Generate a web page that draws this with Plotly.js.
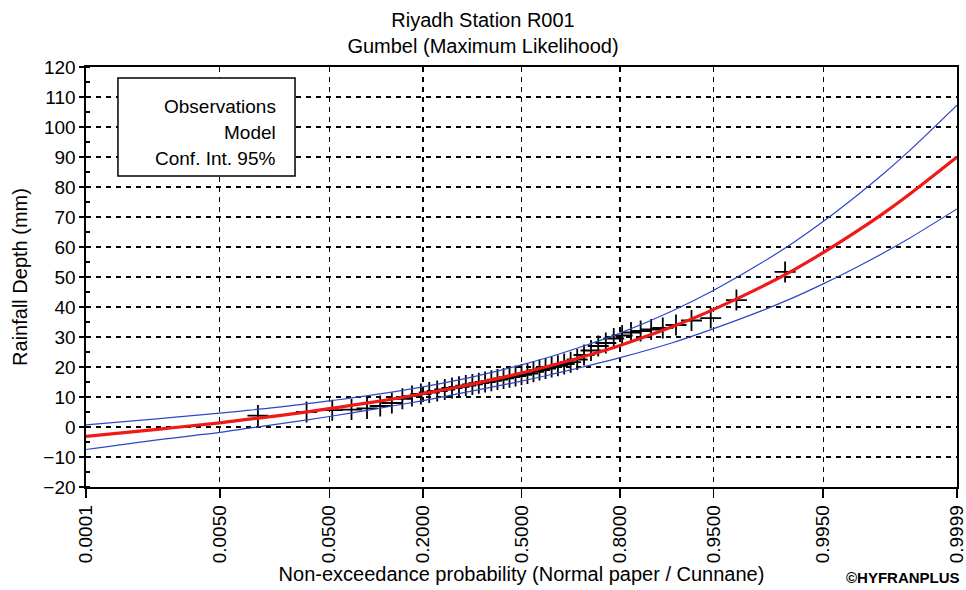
<!DOCTYPE html>
<html>
<head>
<meta charset="utf-8">
<script src="https://cdn.plot.ly/plotly-3.0.1.min.js"></script>
<style>html,body{margin:0;padding:0;background:#fff;}#chart{width:966px;height:590px;}</style>
</head>
<body>
<div id="chart"></div>
<script>
// ---- Data ----
const probTicks = [0.0001, 0.005, 0.05, 0.2, 0.5, 0.8, 0.95, 0.995, 0.9999];
const probTickLabels = ['0.0001', '0.0050', '0.0500', '0.2000', '0.5000', '0.8000', '0.9500', '0.9950', '0.9999'];

// Observations (plotting positions, Cunnane) and rainfall depth (mm)
const obsProb = [0.0122, 0.0325, 0.0528, 0.0732, 0.0935, 0.1138, 0.1341, 0.1545, 0.1748, 0.1951,
  0.2154, 0.2358, 0.2561, 0.2764, 0.2967, 0.3171, 0.3374, 0.3577, 0.3780, 0.3984,
  0.4187, 0.4390, 0.4593, 0.4797, 0.5000, 0.5203, 0.5407, 0.5610, 0.5813, 0.6016,
  0.6220, 0.6423, 0.6626, 0.6829, 0.7033, 0.7236, 0.7439, 0.7642, 0.7846, 0.8049,
  0.8252, 0.8455, 0.8659, 0.8862, 0.9065, 0.9268, 0.9472, 0.9675, 0.9878];
const obsDepth = [3.8, 5.0, 5.6, 5.8, 6.2, 7.0, 8.0, 9.4, 10.3, 11.0,
  11.5, 12.0, 12.5, 13.0, 13.4, 13.8, 14.2, 14.6, 15.0, 15.4,
  15.8, 16.2, 16.6, 17.0, 17.4, 17.8, 18.4, 19.0, 19.5, 20.0,
  20.4, 21.0, 21.6, 22.5, 24.0, 25.5, 27.0, 28.0, 29.5, 30.5,
  31.5, 32.0, 32.5, 33.0, 34.0, 35.5, 36.3, 42.3, 51.7];

// Model (Gumbel ML) and 95% confidence interval
const curveProb = [0.0001, 0.001, 0.005, 0.01, 0.02, 0.05, 0.1, 0.2, 0.3, 0.4, 0.5, 0.6,
  0.7, 0.8, 0.9, 0.95, 0.98, 0.99, 0.995, 0.998, 0.999, 0.9995, 0.9999];
const modelDepth = [-3.1, -0.7, 1.4, 2.6, 3.9, 6.1, 8.2, 11.1, 13.5, 15.7, 18.0, 20.5,
  23.4, 27.2, 33.3, 39.2, 46.8, 52.4, 58.1, 65.6, 71.2, 76.9, 90.0];
const upperDepth = [0.7, 2.8, 4.6, 5.6, 6.7, 8.7, 10.6, 13.4, 15.8, 18.2, 20.7, 23.5,
  26.9, 31.3, 38.6, 45.6, 54.8, 61.6, 68.5, 77.6, 84.4, 91.3, 107.3];
const lowerDepth = [-7.5, -4.2, -1.8, -0.4, 1.1, 3.5, 5.8, 8.8, 11.2, 13.3, 15.3, 17.5,
  20.0, 23.1, 28.0, 32.8, 38.8, 43.2, 47.7, 53.6, 58.0, 62.4, 72.7];

// ---- Normal-probability-paper transform (inverse standard normal CDF, Acklam) ----
function normInv(p) {
  const a = [-3.969683028665376e+01, 2.209460984245205e+02, -2.759285104469687e+02, 1.383577518672690e+02, -3.066479806614716e+01, 2.506628277459239e+00];
  const b = [-5.447609879822406e+01, 1.615962386637463e+02, -1.556989798598866e+02, 6.680131188771972e+01, -1.328068155288572e+01];
  const c = [-7.784894002430293e-03, -3.223964580411365e-01, -2.400758277161838e+00, -2.549732539343734e+00, 4.374664141464968e+00, 2.938163982698783e+00];
  const d = [7.784695709041462e-03, 3.224671290700398e-01, 2.445134137142996e+00, 3.754408661907416e+00];
  const pl = 0.02425, ph = 1 - pl;
  let q, r;
  if (p < pl) {
    q = Math.sqrt(-2 * Math.log(p));
    return (((((c[0]*q+c[1])*q+c[2])*q+c[3])*q+c[4])*q+c[5]) / ((((d[0]*q+d[1])*q+d[2])*q+d[3])*q+1);
  } else if (p <= ph) {
    q = p - 0.5; r = q * q;
    return (((((a[0]*r+a[1])*r+a[2])*r+a[3])*r+a[4])*r+a[5])*q / (((((b[0]*r+b[1])*r+b[2])*r+b[3])*r+b[4])*r+1);
  } else {
    q = Math.sqrt(-2 * Math.log(1 - p));
    return -(((((c[0]*q+c[1])*q+c[2])*q+c[3])*q+c[4])*q+c[5]) / ((((d[0]*q+d[1])*q+d[2])*q+d[3])*q+1);
  }
}
const z = arr => arr.map(normInv);

const FONT = 'Liberation Sans, Arial, sans-serif';
const blue = 'rgb(45,70,200)';
const red = 'rgb(240,25,25)';

const traces = [
  { x: z(obsProb), y: obsDepth, type: 'scatter', mode: 'markers', name: 'Observations',
    marker: { symbol: 'cross-thin-open', size: 15, color: 'black', line: { color: 'black', width: 1.8 } } },
  { x: z(curveProb), y: upperDepth, type: 'scatter', mode: 'lines', name: 'Conf. Int. 95%',
    line: { color: blue, width: 1.2, shape: 'spline' } },
  { x: z(curveProb), y: lowerDepth, type: 'scatter', mode: 'lines', name: 'Conf. Int. 95% (lower)',
    line: { color: blue, width: 1.2, shape: 'spline' } },
  { x: z(curveProb), y: modelDepth, type: 'scatter', mode: 'lines', name: 'Model',
    line: { color: red, width: 3.2, shape: 'spline' } }
];

const zr = [normInv(probTicks[0]) - 1e-6, normInv(probTicks[probTicks.length - 1]) + 1e-6];

const layout = {
  width: 966, height: 590,
  margin: { l: 86, r: 9, t: 67, b: 103 },
  paper_bgcolor: 'white', plot_bgcolor: 'white',
  showlegend: false,
  font: { family: FONT, color: 'black' },
  title: { text: 'Riyadh Station R001<br>Gumbel (Maximum Likelihood)', font: { size: 20, family: FONT, color: 'black' },
    x: 0.5, xref: 'container', xanchor: 'center', y: 0.955, yref: 'container', yanchor: 'middle' },
  xaxis: {
    range: zr, tickmode: 'array', tickvals: z(probTicks), ticktext: probTickLabels, tickangle: -90,
    ticklabeloverflow: 'allow',
    ticks: 'outside', ticklen: 9, tickwidth: 1.3, tickcolor: 'black',
    tickfont: { size: 19, family: FONT, color: 'black' },
    showgrid: true, gridcolor: 'black', griddash: '5px,5px', gridwidth: 1.2,
    showline: true, mirror: true, linecolor: 'black', linewidth: 1.6, zeroline: false,
    title: { text: 'Non-exceedance probability (Normal paper / Cunnane)', font: { size: 20, family: FONT, color: 'black' }, standoff: 2 }
  },
  yaxis: {
    range: [-20, 120], dtick: 10, tick0: 0,
    ticks: 'outside', ticklen: 5, tickwidth: 1.3, tickcolor: 'black',
    tickfont: { size: 19, family: FONT, color: 'black' },
    minor: { dtick: 5, ticks: 'inside', ticklen: 4, tickcolor: 'black', showgrid: false },
    showgrid: true, gridcolor: 'black', griddash: '5px,5px', gridwidth: 1.2,
    showline: true, mirror: true, linecolor: 'black', linewidth: 1.6, zeroline: false,
    title: { text: 'Rainfall Depth (mm)', font: { size: 20, family: FONT, color: 'black' }, standoff: 10 }
  },
  shapes: [
    { type: 'rect', xref: 'paper', yref: 'paper', x0: 0.0367, x1: 0.2400, y0: 0.7405, y1: 0.9738,
      line: { color: 'black', width: 1.5 }, fillcolor: 'white', layer: 'above' }
  ],
  annotations: [
    { text: 'Observations', xref: 'paper', yref: 'paper', x: 0.2204, y: 0.9071, xanchor: 'right', yanchor: 'middle', showarrow: false, font: { size: 19, family: FONT, color: 'black' } },
    { text: 'Model', xref: 'paper', yref: 'paper', x: 0.2204, y: 0.8452, xanchor: 'right', yanchor: 'middle', showarrow: false, font: { size: 19, family: FONT, color: 'black' } },
    { text: 'Conf. Int. 95%', xref: 'paper', yref: 'paper', x: 0.2204, y: 0.7833, xanchor: 'right', yanchor: 'middle', showarrow: false, font: { size: 19, family: FONT, color: 'black' } },
    { text: '<b>©HYFRANPLUS</b>', xref: 'paper', yref: 'paper', x: 1.006, y: -0.216, xanchor: 'right', yanchor: 'middle', showarrow: false, font: { size: 15, family: FONT, color: 'black' } }
  ]
};

Plotly.newPlot('chart', traces, layout, { displayModeBar: false, staticPlot: true });
</script>
</body>
</html>
